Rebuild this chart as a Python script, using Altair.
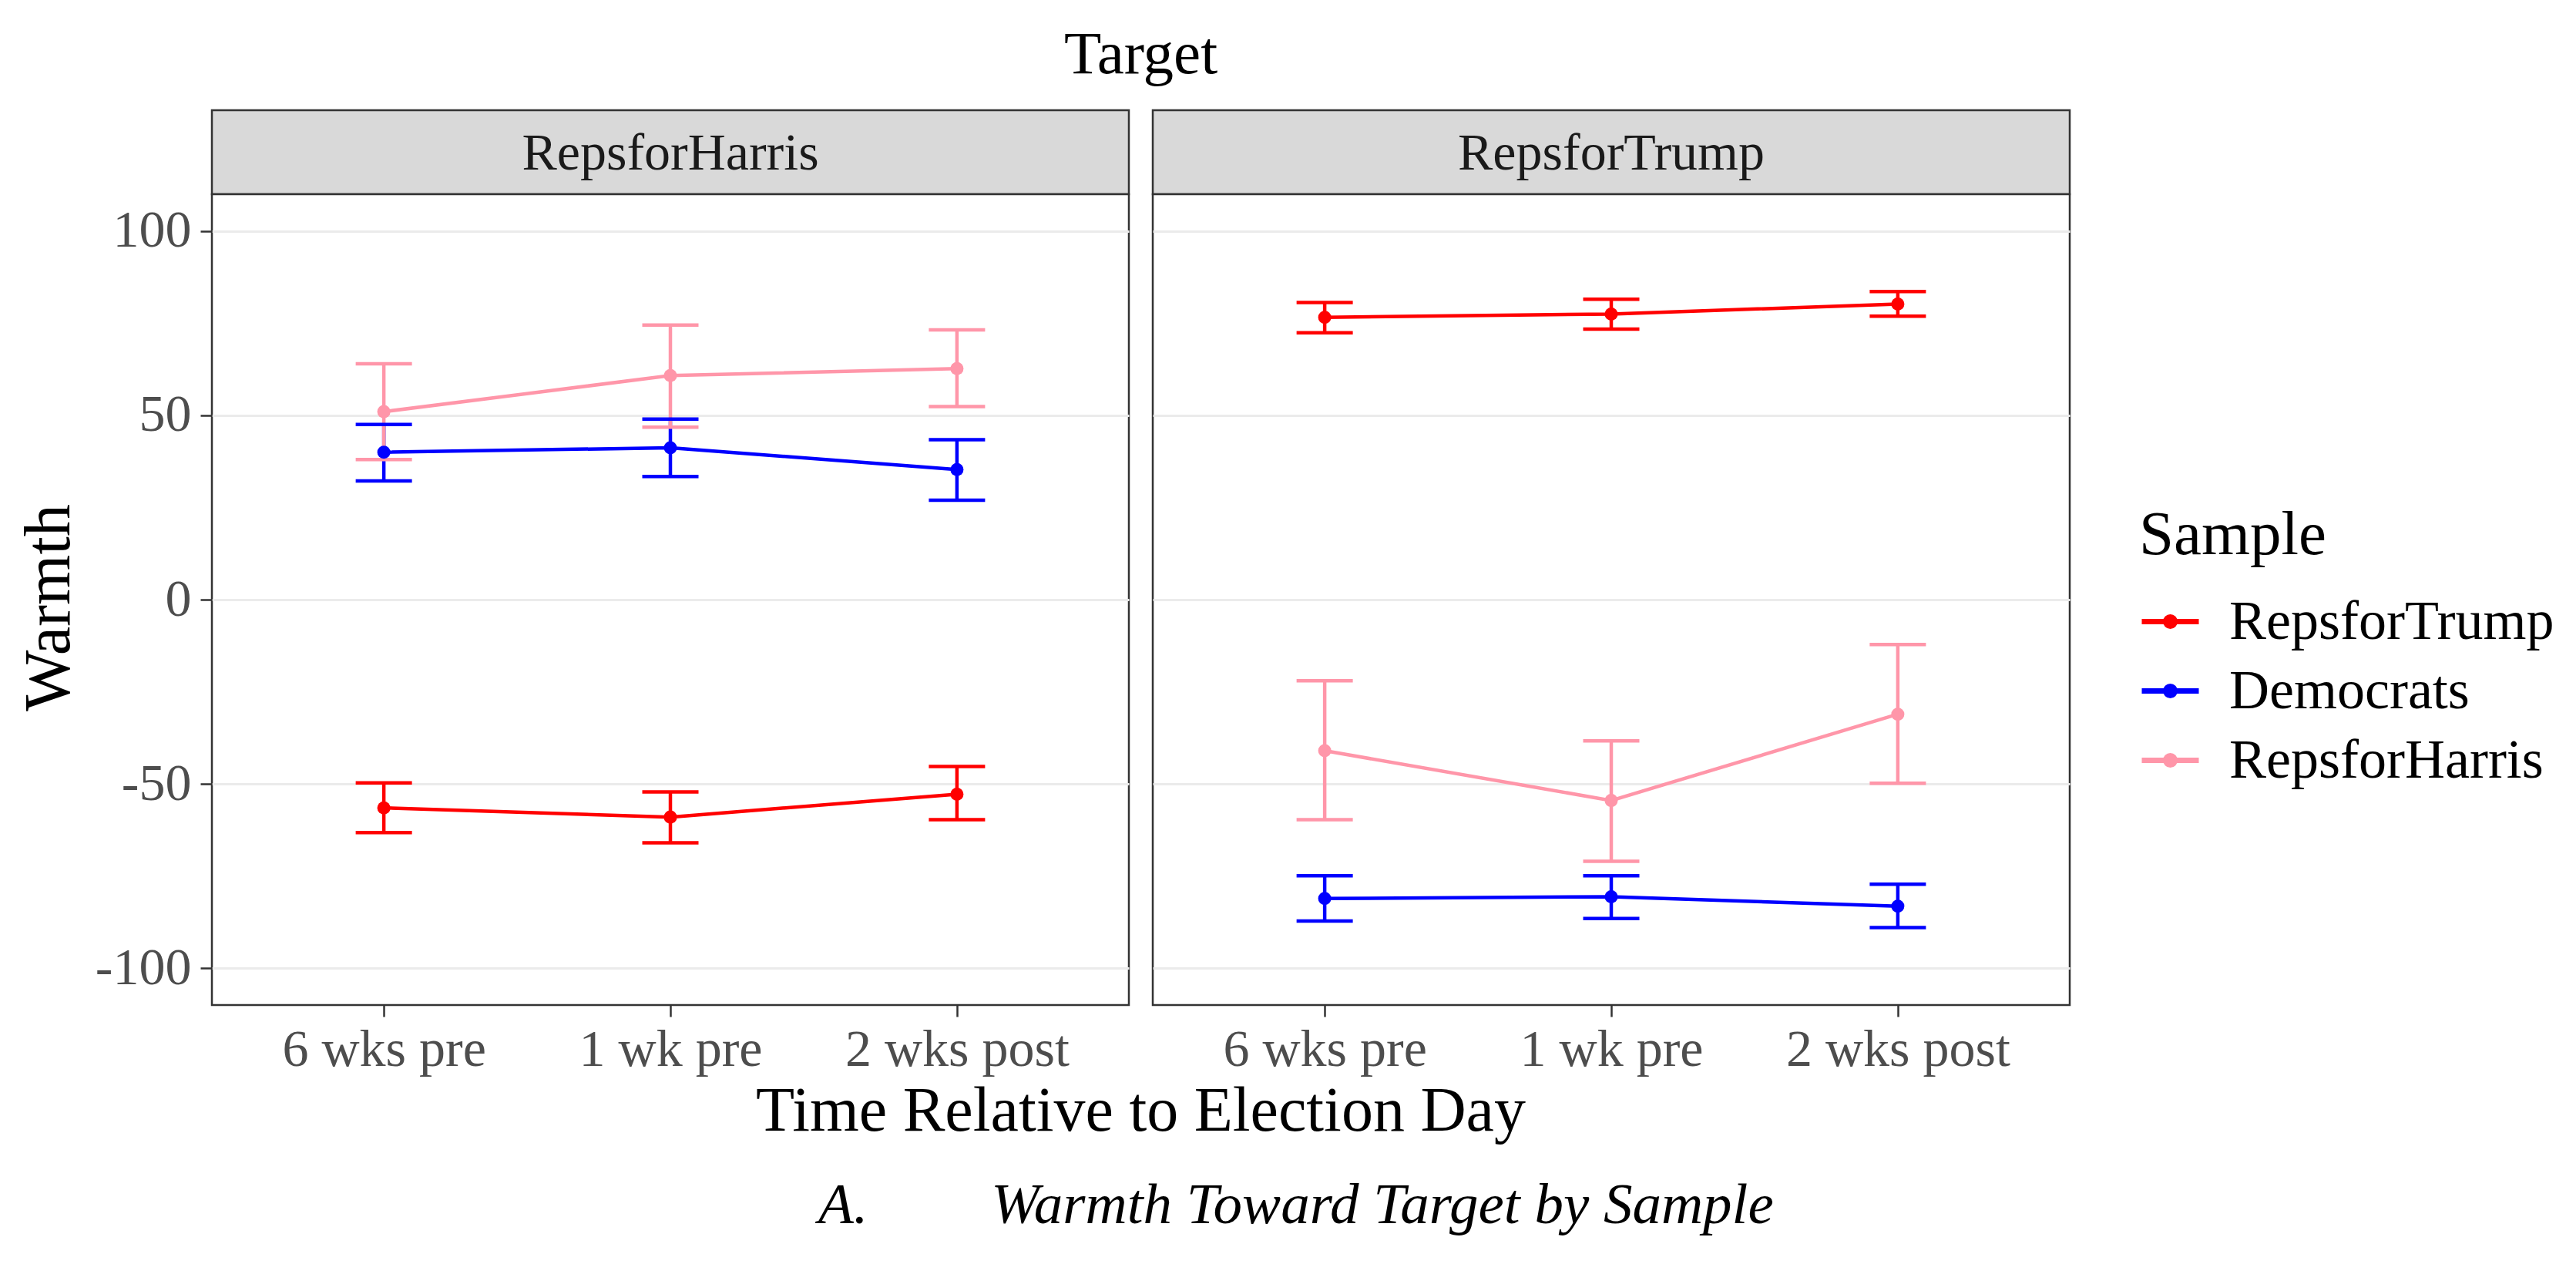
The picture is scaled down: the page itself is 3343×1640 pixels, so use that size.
import altair as alt
import pandas as pd

# ---------------- data ----------------
times = ["6 wks pre", "1 wk pre", "2 wks post"]
samples = ["RepsforTrump", "Democrats", "RepsforHarris"]
targets = ["RepsforHarris", "RepsforTrump"]

# Target = RepsforHarris
harris_trump_mean = [-56.5, -59.0, -52.8]
harris_trump_lo = [-63.2, -66.0, -59.7]
harris_trump_hi = [-49.7, -52.2, -45.3]
harris_dem_mean = [40.0, 41.2, 35.3]
harris_dem_lo = [32.2, 33.4, 27.0]
harris_dem_hi = [47.5, 49.0, 43.4]
harris_harris_mean = [51.0, 60.8, 62.7]
harris_harris_lo = [38.0, 46.8, 52.4]
harris_harris_hi = [64.0, 74.5, 73.2]

# Target = RepsforTrump
trump_trump_mean = [76.6, 77.5, 80.2]
trump_trump_lo = [72.4, 73.4, 76.9]
trump_trump_hi = [80.6, 81.5, 83.6]
trump_dem_mean = [-81.1, -80.6, -83.2]
trump_dem_lo = [-87.2, -86.5, -89.0]
trump_dem_hi = [-74.9, -74.9, -77.2]
trump_harris_mean = [-41.0, -54.5, -31.1]
trump_harris_lo = [-59.7, -71.0, -49.8]
trump_harris_hi = [-22.0, -38.3, -12.2]

y_ticks = [-100, -50, 0, 50, 100]
facet_title = "Target"
x_title = "Time Relative to Election Day"
y_title = "Warmth"
legend_title = "Sample"
caption_letter = "A."
caption_text = "Warmth Toward Target by Sample"

blocks = {
    ("RepsforHarris", "RepsforTrump"): (harris_trump_mean, harris_trump_lo, harris_trump_hi),
    ("RepsforHarris", "Democrats"): (harris_dem_mean, harris_dem_lo, harris_dem_hi),
    ("RepsforHarris", "RepsforHarris"): (harris_harris_mean, harris_harris_lo, harris_harris_hi),
    ("RepsforTrump", "RepsforTrump"): (trump_trump_mean, trump_trump_lo, trump_trump_hi),
    ("RepsforTrump", "Democrats"): (trump_dem_mean, trump_dem_lo, trump_dem_hi),
    ("RepsforTrump", "RepsforHarris"): (trump_harris_mean, trump_harris_lo, trump_harris_hi),
}
rows = []
for (tg, sm), (m, lo, hi) in blocks.items():
    for i, t in enumerate(times):
        rows.append({"Target": tg, "Sample": sm, "Time": t, "Mean": m[i], "Lower": lo[i], "Upper": hi[i]})
df = pd.DataFrame(rows)

# ---------------- styling ----------------
FONT = "Liberation Serif"
W, H = 1190, 1052
STRIP_H = 109
GAP = 31
BORDER = "#333333"
LW = 4.5

color_scale = alt.Scale(domain=samples, range=["#FF0000", "#0000FF", "#FF96A9"])
x_scale = alt.Scale(type="point", domain=times, padding=0.6)
y_scale = alt.Scale(domain=[-110, 110], nice=False, zero=False)

LEGEND_PATH = ("M-1,0L1,0"
               "M-0.162,0a0.162,0.162 0 1,0 0.324,0a0.162,0.162 0 1,0 -0.324,0"
               "M-0.045,0a0.045,0.045 0 1,0 0.09,0a0.045,0.045 0 1,0 -0.09,0")

legend = alt.Legend(
    title=legend_title, orient="none", legendX=2501, legendY=512,
    symbolType=LEGEND_PATH, symbolSize=5476, symbolStrokeWidth=7, symbolOpacity=1,
    labelFont=FONT, labelFontSize=72, labelColor="black", labelOffset=36, labelLimit=1000,
    titleFont=FONT, titleFontSize=81, titleFontWeight="normal", titleColor="black",
    titleLimit=1000, titlePadding=30, rowPadding=13, padding=0,
)


def x_enc():
    return alt.X(
        "Time:N", sort=times, scale=x_scale,
        axis=alt.Axis(title=None, labelAngle=0, labelFont=FONT, labelFontSize=68, labelLimit=1000,
                      labelColor="#4d4d4d", labelBaseline="alphabetic", labelPadding=63,
                      tickSize=15, tickColor=BORDER, tickWidth=2.5, domain=False, grid=False),
    )


def y_axis(left):
    if left:
        return alt.Axis(values=y_ticks, labelExpr="toString(datum.value)", labelFont=FONT,
                        labelFontSize=68, labelColor="#4d4d4d", labelPadding=12,
                        tickSize=15, tickColor=BORDER, tickWidth=2.5, domain=False,
                        grid=True, gridColor="#ebebeb", gridWidth=2.8,
                        title=y_title, titleFont=FONT, titleFontSize=84, titleFontWeight="normal",
                        titleColor="black", titleAngle=270, titleBaseline="alphabetic",
                        titleAlign="center", titleX=-186, titleY=536)
    return alt.Axis(values=y_ticks, labels=False, ticks=False, domain=False, title=None,
                    grid=True, gridColor="#ebebeb", gridWidth=2.8)


def color_enc():
    return alt.Color("Sample:N", scale=color_scale, sort=samples, legend=legend)


def y_enc(field, left):
    return alt.Y(field, scale=y_scale, axis=y_axis(left), title=y_title if left else None)


def plot(target, left):
    base = alt.Chart(df).transform_filter(alt.datum.Target == target)
    line = base.mark_line(strokeWidth=LW).encode(
        x=x_enc(), y=y_enc("Mean:Q", left), color=color_enc())
    bar = base.mark_rule(strokeWidth=LW).encode(
        x=x_enc(), y=y_enc("Lower:Q", left), y2="Upper:Q", color=color_enc())
    cap_lo = base.mark_tick(size=73, thickness=LW, opacity=1).encode(
        x=x_enc(), y=y_enc("Lower:Q", left), color=color_enc())
    cap_hi = base.mark_tick(size=73, thickness=LW, opacity=1).encode(
        x=x_enc(), y=y_enc("Upper:Q", left), color=color_enc())
    pts = base.mark_point(filled=True, size=290, opacity=1).encode(
        x=x_enc(), y=y_enc("Mean:Q", left), color=color_enc())
    layers = [line, bar, cap_lo, cap_hi, pts]
    if left:
        xt = alt.Chart(pd.DataFrame({"t": [x_title]})).mark_text(
            font=FONT, fontSize=82, color="black", baseline="alphabetic", align="center"
        ).encode(text="t:N", x=alt.value(W + GAP / 2), y=alt.value(1215))
        ca = alt.Chart(pd.DataFrame({"t": [caption_letter]})).mark_text(
            font=FONT, fontSize=75, fontStyle="italic", color="black", baseline="alphabetic", align="left"
        ).encode(text="t:N", x=alt.value(787), y=alt.value(1335))
        cb = alt.Chart(pd.DataFrame({"t": [caption_text]})).mark_text(
            font=FONT, fontSize=75, fontStyle="italic", color="black", baseline="alphabetic", align="center"
        ).encode(text="t:N", x=alt.value(1519), y=alt.value(1335))
        layers += [xt, ca, cb]
    return alt.layer(*layers).properties(
        width=W, height=H,
        view=alt.ViewBackground(fill="white", stroke=BORDER, strokeWidth=2.5),
    )


def strip(target, with_title):
    txt = alt.Chart(pd.DataFrame({"Target": [target]})).mark_text(
        font=FONT, fontSize=68, color="#1a1a1a", baseline="alphabetic", align="center"
    ).encode(text="Target:N", x=alt.value(W / 2), y=alt.value(77))
    layers = [txt]
    if with_title:
        tt = alt.Chart(pd.DataFrame({"t": [facet_title]})).mark_text(
            font=FONT, fontSize=79, color="black", baseline="alphabetic", align="center"
        ).encode(text="t:N", x=alt.value(W + GAP / 2), y=alt.value(-48))
        layers.append(tt)
    return alt.layer(*layers).properties(
        width=W, height=STRIP_H,
        view=alt.ViewBackground(fill="#d9d9d9", stroke=BORDER, strokeWidth=2.5),
    )


chart = alt.concat(
    strip(targets[0], True), strip(targets[1], False),
    plot(targets[0], True), plot(targets[1], False),
    columns=2, spacing={"row": 0, "column": GAP}, bounds="flush",
).properties(
    padding={"left": 12, "top": 22, "right": 10, "bottom": 10},
    background="white",
)

chart.save("out.html", embed_options={"renderer": "svg", "actions": False})
